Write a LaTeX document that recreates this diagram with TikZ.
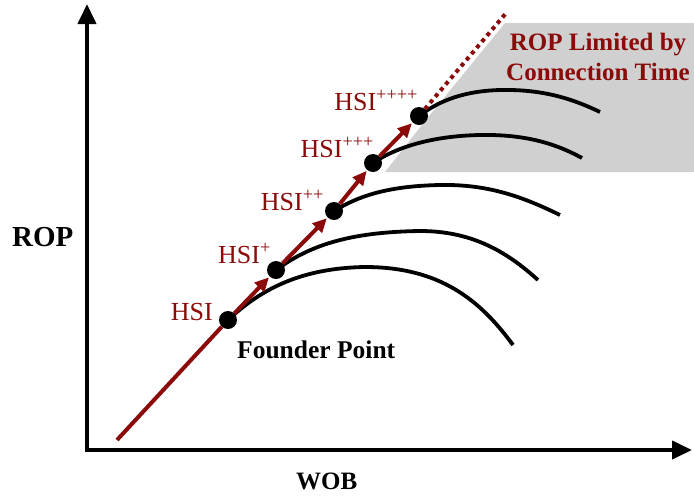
\documentclass[tikz,border=0pt]{standalone}
\usepackage{fontspec}
\setmainfont{Liberation Serif}
\usetikzlibrary{arrows.meta,positioning}
\definecolor{ropred}{HTML}{8B0A0A}
\definecolor{limitgray}{HTML}{D0D0D0}

\begin{document}
\begin{tikzpicture}[
    x=1pt,y=-1pt,
    axis/.style={line width=4pt,-{Triangle[length=20pt,width=18pt]}},
    trend/.style={line width=4pt,ropred,-{Triangle[length=14pt,width=13pt]},shorten >=1pt},
    curve/.style={line width=3.8pt,black},
    point/.style={circle,fill=black,inner sep=0pt,minimum size=18pt},
    hsilabel/.style={ropred,font=\fontsize{26}{30}\selectfont,inner sep=0pt,anchor=base east},
    axislabel/.style={font=\fontsize{29}{34}\selectfont\bfseries,inner sep=0pt,anchor=base west}
  ]
  \useasboundingbox (0,0) rectangle (694,496);

  % connection time region
  \fill[limitgray] (385,172) -- (425,121) -- (505,23) -- (694,23) -- (694,172) -- cycle;

  % axes
  \coordinate (corner) at (87,450);
  \coordinate (ytip) at (87,4);
  \coordinate (xtip) at (692,450);
  \draw[axis] ([yshift=2pt]corner) -- (ytip);
  \draw[axis] ([xshift=-2pt]corner) -- (xtip);
  \node[axislabel] (rop) at (12,246) {ROP};
  \node[axislabel,font=\fontsize{25}{30}\selectfont\bfseries] (wob) at (296,489) {WOB};

  % hydraulic points
  \node[point] (hsi0) at (228,320) {};
  \node[point] (hsi1) at (276,270) {};
  \node[point] (hsi2) at (334,211) {};
  \node[point] (hsi3) at (373,163) {};
  \node[point] (hsi4) at (419,116) {};
  \coordinate (start) at (117,440);
  \coordinate (limit) at (507,12);

  % WOB response curves
  \draw[curve] (hsi0.center) .. controls (260,290) and (300,268) .. (365,267)
    .. controls (440,267) and (480,300) .. (513,345);
  \draw[curve] (hsi1.center) .. controls (310,245) and (350,232) .. (420,231)
    .. controls (470,231) and (505,250) .. (538,280);
  \draw[curve] (hsi2.center) .. controls (360,195) and (390,186) .. (440,185)
    .. controls (490,184) and (525,198) .. (560,215);
  \draw[curve] (hsi3.center) .. controls (395,148) and (430,136) .. (480,135)
    .. controls (530,134) and (560,146) .. (582,158);
  \draw[curve] (hsi4.center) .. controls (440,100) and (465,91) .. (500,90)
    .. controls (545,89) and (575,100) .. (600,112);

  % HSI trend
  \draw[line width=4pt,ropred] (start) -- (hsi0);
  \draw[trend] (hsi0) -- (hsi1);
  \draw[trend] (hsi1) -- (hsi2);
  \draw[trend] (hsi2) -- (hsi3);
  \draw[trend] (hsi3) -- (hsi4);
  \draw[ropred,line width=4pt,dash pattern=on 4pt off 4pt] (hsi4) -- (limit);

  \node[hsilabel] (lbl0) at (213,320) {HSI};
  \node[hsilabel] (lbl1) at (271,263) {HSI\textsuperscript{+}};
  \node[hsilabel] (lbl2) at (324,210) {HSI\textsuperscript{++}};
  \node[hsilabel] (lbl3) at (374,157) {HSI\textsuperscript{+++}};
  \node[hsilabel] (lbl4) at (418,110) {HSI\textsuperscript{++++}};

  \node[axislabel,font=\fontsize{25.5}{30}\selectfont\bfseries] (founder) at (237,358) {Founder Point};
  \node[ropred,font=\fontsize{25}{30}\selectfont\bfseries,align=center,inner sep=0pt]
    (limited) at (598,57) {ROP Limited by\\Connection Time};
\end{tikzpicture}
\end{document}
